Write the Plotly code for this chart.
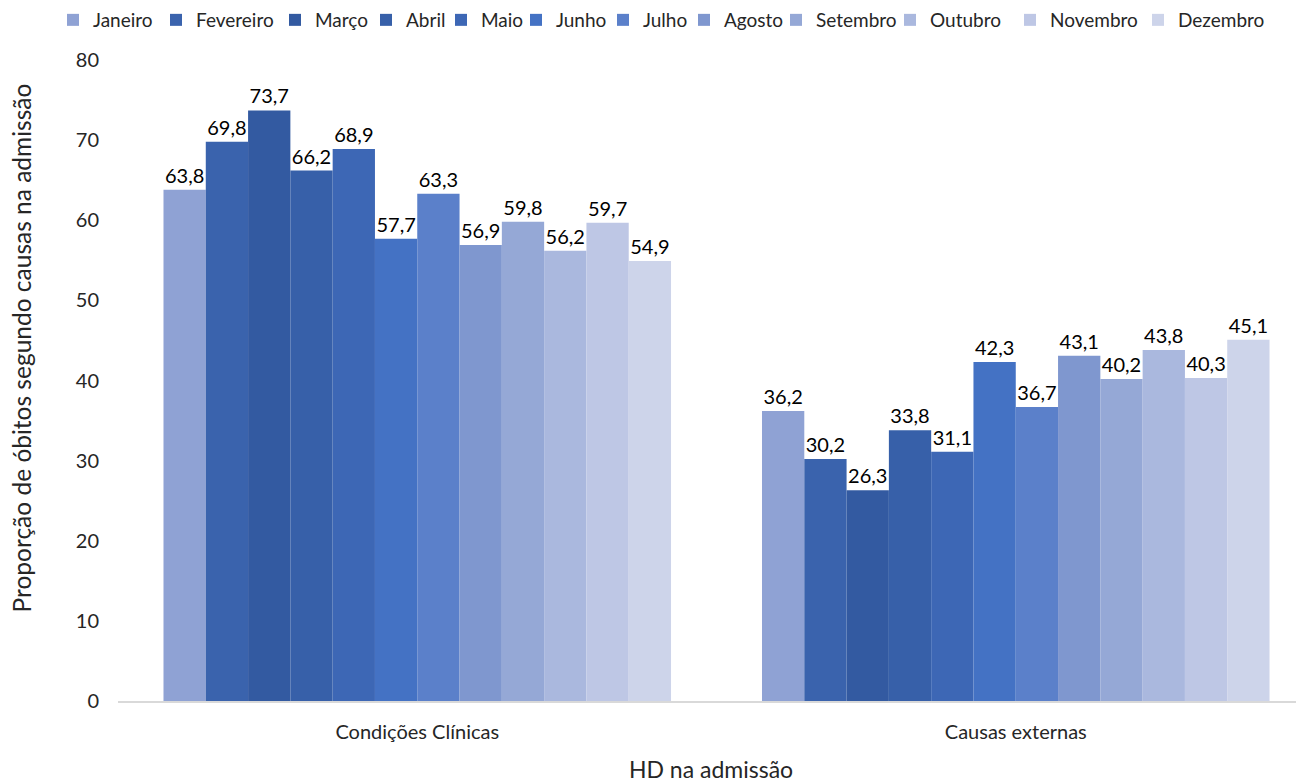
import plotly.graph_objects as go

categorias = ["Condições Clínicas", "Causas externas"]
meses = ["Janeiro", "Fevereiro", "Março", "Abril", "Maio", "Junho",
         "Julho", "Agosto", "Setembro", "Outubro", "Novembro", "Dezembro"]
clinicas = [63.8, 69.8, 73.7, 66.2, 68.9, 57.7, 63.3, 56.9, 59.8, 56.2, 59.7, 54.9]
externas = [36.2, 30.2, 26.3, 33.8, 31.1, 42.3, 36.7, 43.1, 40.2, 43.8, 40.3, 45.1]
cores = ["#8FA2D4", "#3A63AD", "#335AA1", "#3760A9", "#3D67B5", "#4472C4",
         "#5B80CA", "#7F97CF", "#95A8D6", "#AAB8DE", "#BEC7E5", "#CDD4EA"]

FONT = "Lato, Open Sans, sans-serif"
TXT = "#262626"
W, H = 1296, 775  # a página acrescenta 8px de margem no body

# posição (px) do início do texto de cada item da legenda, como no original
leg_txt_x = [93, 196, 315, 406, 481, 556, 643, 724, 816, 930, 1050, 1178]

fig = go.Figure()
for i, mes in enumerate(meses):
    vals = [clinicas[i], externas[i]]
    leg = "legend" if i == 0 else f"legend{i + 1}"
    fig.add_trace(go.Bar(
        x=categorias, y=vals, name=mes, legend=leg, showlegend=True,
        marker=dict(color=cores[i], line=dict(width=0)),
        text=[f"{v:.1f}".replace(".", ",") for v in vals],
        textposition="outside", cliponaxis=False,
        textfont=dict(size=20, color="#000000", family=FONT),
    ))
    fig.update_layout({leg: dict(
        x=(leg_txt_x[i] - 8 - 40) / W, xref="container", xanchor="left",
        y=1.0624, yref="paper", yanchor="middle",
        font=dict(size=19, family=FONT, color=TXT), itemwidth=30,
        bgcolor="rgba(0,0,0,0)")})

fig.update_layout(
    width=W, height=H, showlegend=True,
    barmode="group", bargap=0.152, bargroupgap=0,
    paper_bgcolor="white", plot_bgcolor="white",
    margin=dict(l=110, r=0, t=52, b=82, autoexpand=False),
    font=dict(family=FONT, size=17, color=TXT),
)
# título do eixo y como anotação (no original não fica centrado na área do gráfico)
fig.add_annotation(text="Proporção de óbitos segundo causas na admissão",
                   xref="paper", yref="paper", x=-0.081, y=0.5515,
                   xanchor="center", yanchor="middle", textangle=-90,
                   showarrow=False, font=dict(size=24.5, color=TXT, family=FONT))
fig.update_xaxes(range=[-0.5, 1.4816], automargin=False,
                 showline=True, linecolor="#D9D9D9", linewidth=2,
                 ticks="", tickfont=dict(size=20, color=TXT), ticklabelstandoff=12,
                 title=dict(text="HD na admissão", font=dict(size=23, color=TXT),
                            standoff=22))
fig.update_yaxes(range=[0, 80], dtick=10, showgrid=False, zeroline=False,
                 automargin=False, ticks="", tickfont=dict(size=20, color=TXT),
                 ticklabelstandoff=18)

fig.write_html("out.html")
